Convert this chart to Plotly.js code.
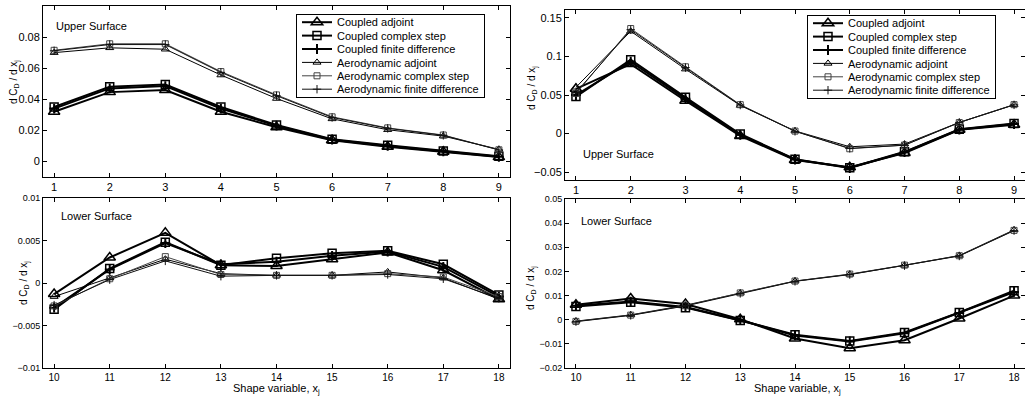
<!DOCTYPE html>
<html>
<head>
<meta charset="utf-8">
<script src="https://cdn.plot.ly/plotly-3.0.1.min.js"></script>
<style>
  html, body { margin: 0; padding: 0; background: #fff; }
  #chart { width: 1025px; height: 398px; }
</style>
</head>
<body>
<div id="chart"></div>
<script>
// ---------- data ----------
var xUpper = [1, 2, 3, 4, 5, 6, 7, 8, 9];
var xLower = [10, 11, 12, 13, 14, 15, 16, 17, 18];

var seriesNames = [
  "Coupled adjoint",
  "Coupled complex step",
  "Coupled finite difference",
  "Aerodynamic adjoint",
  "Aerodynamic complex step",
  "Aerodynamic finite difference"
];

// Left figure, upper surface (variables 1-9)
var leftUpperCoupledAdjoint = [0.0320, 0.0446, 0.0459, 0.0320, 0.0220, 0.0137, 0.0095, 0.0062, 0.0028];
var leftUpperCoupledComplex = [0.0350, 0.0480, 0.0495, 0.0350, 0.0235, 0.0143, 0.0104, 0.0068, 0.0033];
var leftUpperCoupledFD      = [0.0340, 0.0470, 0.0485, 0.0340, 0.0230, 0.0140, 0.0100, 0.0065, 0.0030];
var leftUpperAeroAdjoint    = [0.0700, 0.0731, 0.0722, 0.0556, 0.0405, 0.0274, 0.0204, 0.0163, 0.0078];
var leftUpperAeroComplex    = [0.0715, 0.0757, 0.0757, 0.0578, 0.0428, 0.0287, 0.0216, 0.0170, 0.0075];
var leftUpperAeroFD         = [0.0712, 0.0752, 0.0752, 0.0573, 0.0423, 0.0283, 0.0213, 0.0168, 0.0074];

// Left figure, lower surface (variables 10-18)
var leftLowerCoupledAdjoint = [-0.0013, 0.0030, 0.0059, 0.0021, 0.0020, 0.0028, 0.0036, 0.0015, -0.0019];
var leftLowerCoupledComplex = [-0.0031, 0.0017, 0.0048, 0.0021, 0.0029, 0.0035, 0.0038, 0.0022, -0.0014];
var leftLowerCoupledFD      = [-0.0029, 0.0016, 0.0047, 0.0022, 0.0025, 0.0032, 0.0037, 0.0019, -0.0016];
var leftLowerAeroAdjoint    = [-0.0016, 0.0006, 0.0028, 0.0011, 0.0009, 0.0009, 0.0013, 0.0006, -0.0019];
var leftLowerAeroComplex    = [-0.0027, 0.0005, 0.0031, 0.0010, 0.0009, 0.0009, 0.0011, 0.0007, -0.0016];
var leftLowerAeroFD         = [-0.0026, 0.0004, 0.0026, 0.0008, 0.0009, 0.0009, 0.0010, 0.0005, -0.0018];

// Right figure, upper surface (variables 1-9)
var rightUpperCoupledAdjoint = [0.0580, 0.0900, 0.0426, -0.0030, -0.0340, -0.0435, -0.0250, 0.0050, 0.0115];
var rightUpperCoupledComplex = [0.0480, 0.0957, 0.0470, -0.0005, -0.0330, -0.0440, -0.0235, 0.0057, 0.0130];
var rightUpperCoupledFD      = [0.0500, 0.0930, 0.0450, -0.0015, -0.0335, -0.0445, -0.0240, 0.0053, 0.0125];
var rightUpperAeroAdjoint    = [0.0600, 0.1325, 0.0835, 0.0365, 0.0035, -0.0170, -0.0135, 0.0145, 0.0375];
var rightUpperAeroComplex    = [0.0520, 0.1360, 0.0865, 0.0375, 0.0033, -0.0196, -0.0148, 0.0143, 0.0375];
var rightUpperAeroFD         = [0.0530, 0.1345, 0.0855, 0.0370, 0.0030, -0.0190, -0.0150, 0.0145, 0.0372];

// Right figure, lower surface (variables 10-18)
var rightLowerCoupledAdjoint = [0.0062, 0.0088, 0.0065, 0.0002, -0.0078, -0.0118, -0.0085, 0.0005, 0.0100];
var rightLowerCoupledComplex = [0.0055, 0.0072, 0.0050, -0.0003, -0.0062, -0.0088, -0.0053, 0.0030, 0.0120];
var rightLowerCoupledFD      = [0.0058, 0.0075, 0.0053, -0.0002, -0.0065, -0.0090, -0.0056, 0.0028, 0.0115];
var rightLowerAeroAdjoint    = [-0.0006, 0.0020, 0.0060, 0.0110, 0.0160, 0.0188, 0.0225, 0.0266, 0.0372];
var rightLowerAeroComplex    = [-0.0007, 0.0019, 0.0058, 0.0111, 0.0160, 0.0189, 0.0226, 0.0265, 0.0370];
var rightLowerAeroFD         = [-0.0008, 0.0018, 0.0057, 0.0109, 0.0159, 0.0187, 0.0224, 0.0264, 0.0369];

var panelTexts = ["Upper Surface", "Lower Surface", "Upper Surface", "Lower Surface"];
var xTitleText = "Shape variable, x<sub>j</sub>";
var yTitleText = "d C<sub>D</sub> / d x<sub>j</sub>";

// ---------- styles ----------
var styles = [
  {lw: 2, color: "#000", symbol: "triangle-up-open", size: 10, mlw: 1.5},
  {lw: 2, color: "#000", symbol: "square-open", size: 8, mlw: 1.5},
  {lw: 2, color: "#000", symbol: "cross-thin-open", size: 7, mlw: 2},
  {lw: 1, color: "#000", symbol: "triangle-up-open", size: 7, mlw: 1},
  {lw: 1, color: "#444", symbol: "square-open", size: 6, mlw: 1},
  {lw: 1, color: "#111", symbol: "cross-thin-open", size: 6, mlw: 1}
];

function makeTraces(xs, ysList, xa, ya, legendId, show) {
  return ysList.map(function (ys, i) {
    var s = styles[i];
    return {
      type: "scatter", mode: "lines+markers",
      x: xs, y: ys, xaxis: xa, yaxis: ya,
      name: seriesNames[i],
      legend: legendId, showlegend: show,
      line: {color: s.color, width: s.lw},
      marker: {symbol: s.symbol, size: s.size, color: s.color,
               line: {color: s.color, width: s.mlw}},
      cliponaxis: true
    };
  });
}

var traces = []
  .concat(makeTraces(xUpper, [leftUpperCoupledAdjoint, leftUpperCoupledComplex, leftUpperCoupledFD,
                              leftUpperAeroAdjoint, leftUpperAeroComplex, leftUpperAeroFD], "x", "y", "legend", true))
  .concat(makeTraces(xLower, [leftLowerCoupledAdjoint, leftLowerCoupledComplex, leftLowerCoupledFD,
                              leftLowerAeroAdjoint, leftLowerAeroComplex, leftLowerAeroFD], "x2", "y2", "legend", false))
  .concat(makeTraces(xUpper, [rightUpperCoupledAdjoint, rightUpperCoupledComplex, rightUpperCoupledFD,
                              rightUpperAeroAdjoint, rightUpperAeroComplex, rightUpperAeroFD], "x3", "y3", "legend2", true))
  .concat(makeTraces(xLower, [rightLowerCoupledAdjoint, rightLowerCoupledComplex, rightLowerCoupledFD,
                              rightLowerAeroAdjoint, rightLowerAeroComplex, rightLowerAeroFD], "x4", "y4", "legend2", false));

var W = 1025, H = 398;
function px(x) { return x / W; }
function py(y) { return 1 - y / H; }

function axis(domain, range, extra) {
  var a = {
    domain: domain, range: range, autorange: false,
    showline: true, linecolor: "#000", linewidth: 1, mirror: "ticks",
    ticks: "inside", ticklen: 4, tickwidth: 1, tickcolor: "#000",
    showgrid: false, zeroline: false, fixedrange: true,
    tickfont: {size: 11, color: "#000"}
  };
  for (var k in extra) a[k] = extra[k];
  return a;
}

var leftDom = [px(43), px(510)];
var rightDom = [px(565), 1];

var layout = {
  width: W, height: H, autosize: false,
  margin: {l: 0, r: 0, t: 0, b: 0, pad: 0},
  paper_bgcolor: "#fff", plot_bgcolor: "#fff",
  font: {family: "Liberation Sans, Arial, sans-serif", size: 11, color: "#000"},
  xaxis:  axis(leftDom, [0.8, 9.2], {anchor: "y", tickvals: xUpper}),
  yaxis:  axis([py(177), py(6)], [-0.01, 0.1], {anchor: "x", dtick: 0.02, tick0: 0}),
  xaxis2: axis(leftDom, [9.8, 18.2], {anchor: "y2", tickvals: xLower, tickfont: {size: 10, color: "#000"}}),
  yaxis2: axis([py(368), py(198)], [-0.01, 0.01], {anchor: "x2", dtick: 0.005, tick0: 0, tickfont: {size: 9, color: "#000"}}),
  xaxis3: axis(rightDom, [0.8, 9.2], {anchor: "y3", tickvals: xUpper}),
  yaxis3: axis([py(180), py(10)], [-0.06, 0.16], {anchor: "x3", dtick: 0.05, tick0: 0}),
  xaxis4: axis(rightDom, [9.8, 18.2], {anchor: "y4", tickvals: xLower, tickfont: {size: 10, color: "#000"}}),
  yaxis4: axis([py(368), py(199)], [-0.02, 0.05], {anchor: "x4", dtick: 0.01, tick0: 0, tickfont: {size: 9, color: "#000"}}),
  legend: {
    x: px(296), y: py(14), xanchor: "left", yanchor: "top",
    bgcolor: "#fff", bordercolor: "#000", borderwidth: 1,
    font: {size: 11, color: "#000"}, traceorder: "normal", itemwidth: 30
  },
  legend2: {
    x: px(807), y: py(15), xanchor: "left", yanchor: "top",
    bgcolor: "#fff", bordercolor: "#000", borderwidth: 1,
    font: {size: 11, color: "#000"}, traceorder: "normal", itemwidth: 30
  },
  annotations: [
    {text: panelTexts[0], xref: "paper", yref: "paper", x: px(54), y: py(26), xanchor: "left", yanchor: "middle", showarrow: false, font: {size: 11}},
    {text: panelTexts[1], xref: "paper", yref: "paper", x: px(59), y: py(216), xanchor: "left", yanchor: "middle", showarrow: false, font: {size: 11}},
    {text: panelTexts[2], xref: "paper", yref: "paper", x: px(581), y: py(154), xanchor: "left", yanchor: "middle", showarrow: false, font: {size: 11}},
    {text: panelTexts[3], xref: "paper", yref: "paper", x: px(579), y: py(221), xanchor: "left", yanchor: "middle", showarrow: false, font: {size: 11}},
    {text: yTitleText, textangle: -90, xref: "paper", yref: "paper", x: px(14), y: py(82), xanchor: "center", yanchor: "middle", showarrow: false, font: {size: 10}},
    {text: yTitleText, textangle: -90, xref: "paper", yref: "paper", x: px(24), y: py(283), xanchor: "center", yanchor: "middle", showarrow: false, font: {size: 10}},
    {text: yTitleText, textangle: -90, xref: "paper", yref: "paper", x: px(532), y: py(88), xanchor: "center", yanchor: "middle", showarrow: false, font: {size: 10}},
    {text: yTitleText, textangle: -90, xref: "paper", yref: "paper", x: px(531), y: py(288), xanchor: "center", yanchor: "middle", showarrow: false, font: {size: 10}},
    {text: xTitleText, xref: "paper", yref: "paper", x: px(276), y: py(389), xanchor: "center", yanchor: "middle", showarrow: false, font: {size: 11}},
    {text: xTitleText, xref: "paper", yref: "paper", x: px(797), y: py(389), xanchor: "center", yanchor: "middle", showarrow: false, font: {size: 11}}
  ],
  showlegend: true
};

function compactLegends(gd) {
  var legends = gd.querySelectorAll("g.infolayer > g.legend, g.infolayer > g.legend2");
  legends.forEach(function (lg) {
    var items = lg.querySelectorAll("g.traces");
    var step = 13.4, top = 8.2;
    items.forEach(function (t, i) {
      var tr = t.getAttribute("transform") || "";
      var m = /translate\(\s*([-\d.e]+)[ ,]+([-\d.e]+)\s*\)/.exec(tr);
      var x = m ? parseFloat(m[1]) : 1;
      t.setAttribute("transform", "translate(" + x + "," + (top + i * step) + ")");
    });
    var bg = lg.querySelector("rect.bg");
    if (bg && items.length) bg.setAttribute("height", top + (items.length - 1) * step + 7.6);
  });
}

Plotly.newPlot("chart", traces, layout, {displayModeBar: false, staticPlot: true}).then(function (gd) {
  compactLegends(gd);
});
</script>
</body>
</html>
